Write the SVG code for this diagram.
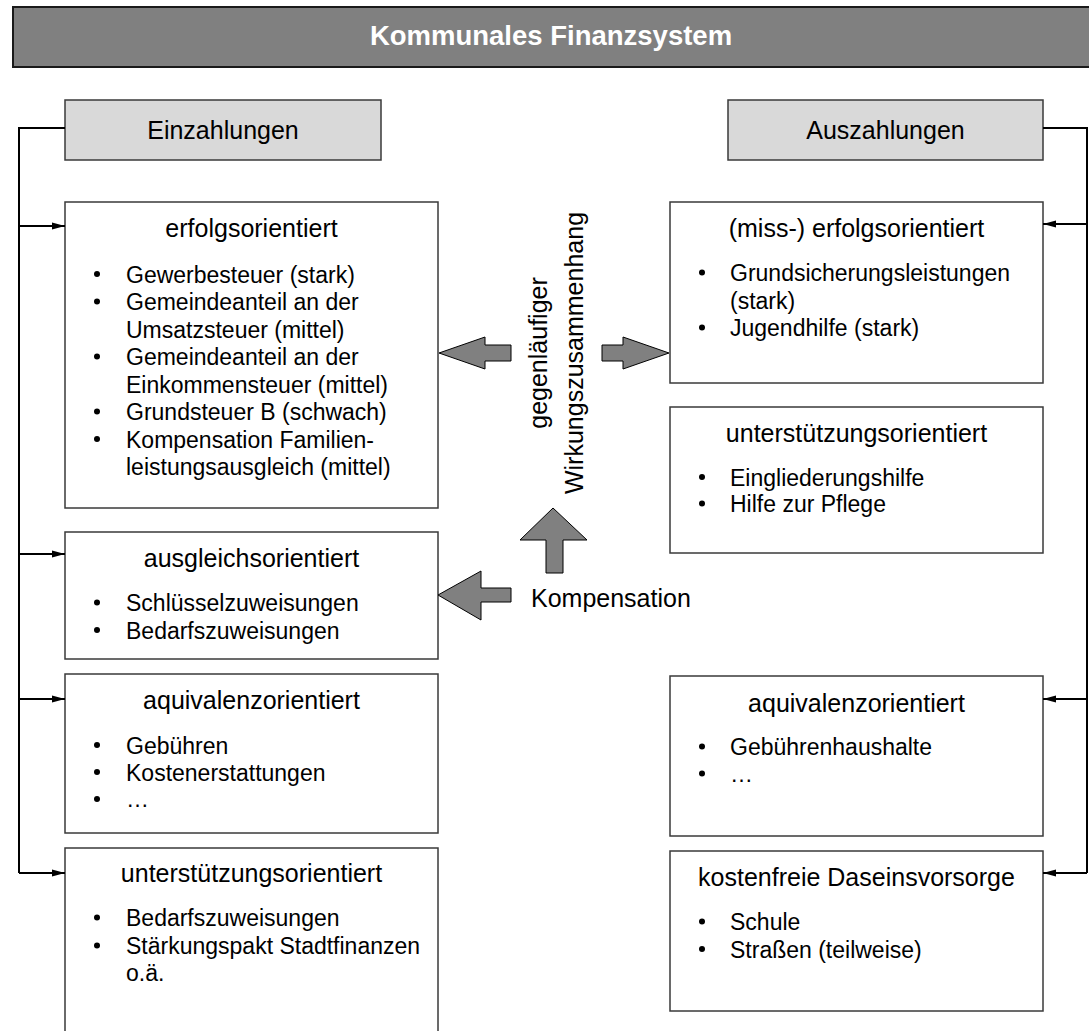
<svg xmlns="http://www.w3.org/2000/svg" width="1089" height="1031" viewBox="0 0 1089 1031">
<style>
text{font-family:"Liberation Sans",Arial,sans-serif;fill:#000}
.ttl{font-size:25px;text-anchor:middle}
.it{font-size:23px}
.box{fill:#fff;stroke:#3a3a3a;stroke-width:1.5}
.hdr{fill:#d9d9d9;stroke:#3a3a3a;stroke-width:1.5}
.bul{fill:#000}
.con{fill:none;stroke:#000;stroke-width:2}
.blk{fill:#808080;stroke:#000;stroke-width:1}
</style>
<defs>
<marker id="ah" markerUnits="userSpaceOnUse" markerWidth="14" markerHeight="8" refX="13" refY="4" orient="auto">
<path d="M0,0.5 L13,4 L0,7.5 z" fill="#000"/>
</marker>
</defs>

<g id="title">
<rect x="13" y="7" width="1090" height="60" fill="#808080" stroke="#1a1a1a" stroke-width="2"/>
<text x="551" y="45" text-anchor="middle" style="font-size:27.5px;font-weight:bold;fill:#fff">Kommunales Finanzsystem</text>
</g>

<g id="einzahlungen">
<rect class="hdr" x="65" y="100" width="316" height="60"/>
<text class="ttl" x="223" y="139">Einzahlungen</text>
</g>

<g id="auszahlungen">
<rect class="hdr" x="728" y="100" width="315" height="60"/>
<text class="ttl" x="885.5" y="139">Auszahlungen</text>
</g>

<g id="ein-erfolg">
<rect class="box" x="65" y="202" width="373" height="306"/>
<text class="ttl" x="251.5" y="237">erfolgsorientiert</text>
<circle class="bul" cx="97" cy="274" r="3"/>
<text class="it" x="126" y="282.5">Gewerbesteuer (stark)</text>
<circle class="bul" cx="97" cy="301.5" r="3"/>
<text class="it" x="126" y="310">Gemeindeanteil an der</text>
<text class="it" x="126" y="337.5">Umsatzsteuer (mittel)</text>
<circle class="bul" cx="97" cy="356.5" r="3"/>
<text class="it" x="126" y="365">Gemeindeanteil an der</text>
<text class="it" x="126" y="392.5">Einkommensteuer (mittel)</text>
<circle class="bul" cx="97" cy="411.5" r="3"/>
<text class="it" x="126" y="420">Grundsteuer B (schwach)</text>
<circle class="bul" cx="97" cy="439" r="3"/>
<text class="it" x="126" y="447.5">Kompensation Familien-</text>
<text class="it" x="126" y="475">leistungsausgleich (mittel)</text>
</g>

<g id="ein-ausgleich">
<rect class="box" x="65" y="532" width="373" height="127"/>
<text class="ttl" x="251.5" y="567">ausgleichsorientiert</text>
<circle class="bul" cx="97" cy="602.5" r="3"/>
<text class="it" x="126" y="611">Schlüsselzuweisungen</text>
<circle class="bul" cx="97" cy="630" r="3"/>
<text class="it" x="126" y="638.5">Bedarfszuweisungen</text>
</g>

<g id="ein-aequivalenz">
<rect class="box" x="65" y="674" width="373" height="159"/>
<text class="ttl" x="251.5" y="708.5">aquivalenzorientiert</text>
<circle class="bul" cx="97" cy="745" r="3"/>
<text class="it" x="126" y="753.5">Gebühren</text>
<circle class="bul" cx="97" cy="772" r="3"/>
<text class="it" x="126" y="780.5">Kostenerstattungen</text>
<circle class="bul" cx="97" cy="799" r="3"/>
<text class="it" x="126" y="807">…</text>
</g>

<g id="ein-unterstuetzung">
<rect class="box" x="65" y="848" width="373" height="200"/>
<text class="ttl" x="251.5" y="882">unterstützungsorientiert</text>
<circle class="bul" cx="97" cy="917.5" r="3"/>
<text class="it" x="126" y="926">Bedarfszuweisungen</text>
<circle class="bul" cx="97" cy="945.5" r="3"/>
<text class="it" x="126" y="954">Stärkungspakt Stadtfinanzen</text>
<text class="it" x="126" y="981">o.ä.</text>
</g>

<g id="aus-erfolg">
<rect class="box" x="670" y="202" width="373" height="181"/>
<text class="ttl" x="856.5" y="237">(miss-) erfolgsorientiert</text>
<circle class="bul" cx="702" cy="272.5" r="3"/>
<text class="it" x="730" y="281">Grundsicherungsleistungen</text>
<text class="it" x="730" y="308.5">(stark)</text>
<circle class="bul" cx="702" cy="327.5" r="3"/>
<text class="it" x="730" y="336">Jugendhilfe (stark)</text>
</g>

<g id="aus-unterstuetzung">
<rect class="box" x="670" y="407" width="373" height="146"/>
<text class="ttl" x="856.5" y="442">unterstützungsorientiert</text>
<circle class="bul" cx="702" cy="477" r="3"/>
<text class="it" x="730" y="485.5">Eingliederungshilfe</text>
<circle class="bul" cx="702" cy="503.5" r="3"/>
<text class="it" x="730" y="512">Hilfe zur Pflege</text>
</g>

<g id="aus-aequivalenz">
<rect class="box" x="670" y="676" width="373" height="160"/>
<text class="ttl" x="856.5" y="712">aquivalenzorientiert</text>
<circle class="bul" cx="702" cy="746.5" r="3"/>
<text class="it" x="730" y="755">Gebührenhaushalte</text>
<circle class="bul" cx="702" cy="773.5" r="3"/>
<text class="it" x="730" y="782">…</text>
</g>

<g id="aus-kostenfrei">
<rect class="box" x="670" y="851" width="373" height="160"/>
<text class="ttl" x="856.5" y="886">kostenfreie Daseinsvorsorge</text>
<circle class="bul" cx="702" cy="921.5" r="3"/>
<text class="it" x="730" y="930">Schule</text>
<circle class="bul" cx="702" cy="949" r="3"/>
<text class="it" x="730" y="957.5">Straßen (teilweise)</text>
</g>

<g id="mitte">
<text class="ttl" transform="translate(547,353) rotate(-90)">gegenläufiger</text>
<text class="ttl" transform="translate(583,353) rotate(-90)">Wirkungszusammenhang</text>
<text x="531" y="607" style="font-size:25px">Kompensation</text>
</g>

<g id="connectors">
<path class="con" d="M65,128 H19 V873"/>
<path class="con" d="M19,226 H65" marker-end="url(#ah)"/>
<path class="con" d="M19,554 H65" marker-end="url(#ah)"/>
<path class="con" d="M19,699 H65" marker-end="url(#ah)"/>
<path class="con" d="M19,873 H65" marker-end="url(#ah)"/>
<path class="con" d="M1043,128 H1087 V873"/>
<path class="con" d="M1087,224 H1043" marker-end="url(#ah)"/>
<path class="con" d="M1087,699 H1043" marker-end="url(#ah)"/>
<path class="con" d="M1087,873 H1043" marker-end="url(#ah)"/>
<polygon class="blk" points="439,353 485,337 485,345 511,345 511,361 485,361 485,369"/>
<polygon class="blk" points="669,353 623,337 623,345 602,345 602,361 623,361 623,369"/>
<polygon class="blk" points="553,508 587,540 563,540 563,573 546,573 546,540 520,540"/>
<polygon class="blk" points="438,595 481,571 481,588 511,588 511,602 481,602 481,620"/>
</g>
</svg>
